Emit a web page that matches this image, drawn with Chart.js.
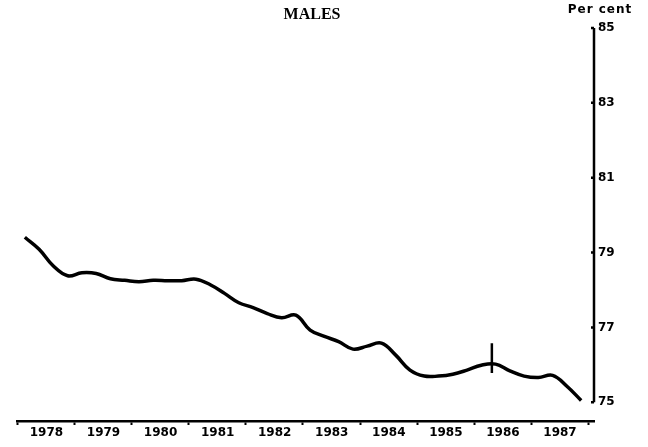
<!DOCTYPE html>
<html>
<head>
<meta charset="utf-8">
<script src="https://cdn.jsdelivr.net/npm/chart.js@4/dist/chart.umd.min.js"></script>
<style>
  html, body { margin: 0; padding: 0; background: #fff; }
  #wrap { width: 648px; height: 447px; position: relative; }
</style>
</head>
<body>
<div id="wrap"><canvas id="chart"></canvas></div>
<script>
// ==================== 数据 ====================
const years = [1978, 1979, 1980, 1981, 1982, 1983, 1984, 1985, 1986, 1987]
const yTicks = [75, 77, 79, 81, 83, 85]

// quarterly values, per cent (4 per year)
const maleRate = [
    79.41, 79.09, 78.64, 78.38,
    78.46, 78.44, 78.30, 78.26,
    78.22, 78.26, 78.25, 78.25,
    78.29, 78.14, 77.91, 77.66,
    77.53, 77.37, 77.26, 77.33,
    76.93, 76.76, 76.62, 76.42,
    76.50, 76.58, 76.26, 75.86,
    75.70, 75.70, 75.75, 75.86,
    75.99, 76.02, 75.84, 75.70,
    75.66, 75.72, 75.43, 75.05
]

// series break marker
const breakYear = 1986.31
const breakRange = [75.78, 76.58]

const titleText = 'MALES'
const unitText = 'Per cent'

// ==================== 构建 ====================
const linePoints = maleRate.map((v, i) => ({
    x: years[Math.floor(i / 4)] + ((i % 4) + 0.5) / 4,
    y: v
}))
const breakPoints = breakRange.map(v => ({ x: breakYear, y: v }))

const INK = '#000'
const labelFont = { family: 'DejaVu Sans', weight: 'bold', size: 12 }

// right axis line stops at 75, with small inward ticks
const axisPlugin = {
    id: 'rightAxis',
    afterDraw(chart) {
        const { ctx, chartArea, scales } = chart
        const y = scales.y
        const x = chartArea.right
        const top = y.getPixelForValue(yTicks[yTicks.length - 1])
        const bottom = y.getPixelForValue(yTicks[0])
        ctx.save()
        ctx.strokeStyle = INK
        ctx.lineWidth = 2.5
        ctx.beginPath()
        ctx.moveTo(x, top)
        ctx.lineTo(x, bottom)
        yTicks.forEach(t => {
            const py = y.getPixelForValue(t)
            ctx.moveTo(x, py)
            ctx.lineTo(x - 3, py)
        })
        ctx.stroke()

        ctx.fillStyle = INK
        ctx.textBaseline = 'middle'
        ctx.textAlign = 'center'
        ctx.font = 'bold 16px "Liberation Serif"'
        ctx.fillText(titleText, 312, 15)
        ctx.font = 'bold 12px "DejaVu Sans"'
        ctx.letterSpacing = '1px'
        ctx.fillText(unitText, 600, 10)
        ctx.restore()
    }
}

new Chart(document.getElementById('chart'), {
    type: 'line',
    data: {
        datasets: [{
            data: linePoints,
            borderColor: INK,
            borderWidth: 3.5,
            tension: 0.4,
            pointRadius: 0,
            fill: false
        }, {
            data: breakPoints,
            borderColor: INK,
            borderWidth: 2.5,
            pointRadius: 0,
            fill: false
        }]
    },
    options: {
        responsive: true,
        maintainAspectRatio: false,
        animation: false,
        layout: { padding: { top: 28, left: 13, right: 0, bottom: 0 } },
        plugins: {
            legend: { display: false },
            tooltip: { enabled: false },
            title: { display: false }
        },
        scales: {
            x: {
                type: 'linear',
                min: years[0],
                max: years[years.length - 1] + 1.1,
                afterBuildTicks: (s) => {
                    s.ticks = years.concat([years[years.length - 1] + 1]).map(v => ({ value: v }))
                },
                afterFit: (s) => { s.height = 26 },
                border: { display: true, color: INK, width: 2.5 },
                grid: {
                    drawOnChartArea: false,
                    drawTicks: true,
                    tickLength: 4,
                    tickWidth: 2,
                    tickColor: INK
                },
                ticks: {
                    autoSkip: false,
                    maxRotation: 0,
                    padding: 1,
                    labelOffset: 28.75,
                    color: INK,
                    font: labelFont,
                    callback: (v) => years.includes(v) ? String(v) : ''
                }
            },
            y: {
                position: 'right',
                min: 74.5,
                max: 85,
                afterBuildTicks: (s) => {
                    s.ticks = yTicks.map(v => ({ value: v }))
                },
                afterFit: (s) => { s.width = 54 },
                border: { display: false },
                grid: { drawOnChartArea: false, drawTicks: false },
                ticks: {
                    padding: 4,
                    color: INK,
                    font: labelFont
                }
            }
        }
    },
    plugins: [axisPlugin]
})
</script>
</body>
</html>
